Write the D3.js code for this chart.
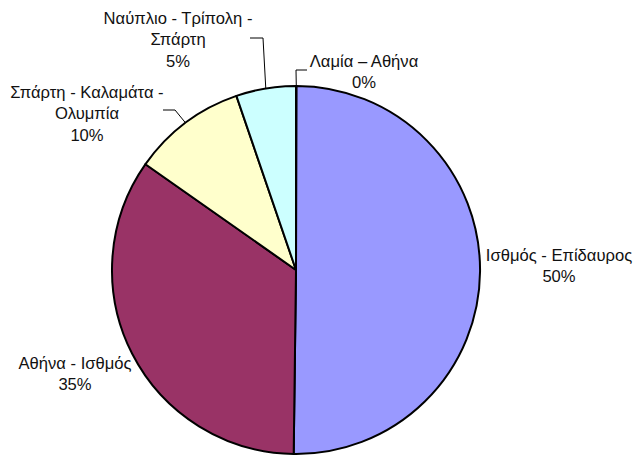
<!DOCTYPE html>
<html>
<head>
<meta charset="utf-8">
<script src="https://cdn.jsdelivr.net/npm/d3@7/dist/d3.min.js"></script>
<style>
	body { margin: 0; background: #fff; }
	svg text { font-family: 'Liberation Sans', Arial, sans-serif; font-size: 16.6px; fill: #111; }
</style>
</head>
<body>
<svg id="chart" width="634" height="460"></svg>
<script>
// route names, shares (percent of total), slice colours
const routes = ["Λαμία – Αθήνα", "Ισθμός - Επίδαυρος", "Αθήνα - Ισθμός", "Σπάρτη - Καλαμάτα - Ολυμπία", "Ναύπλιο - Τρίπολη - Σπάρτη"];
const shares = [0.05, 50.15, 34.55, 10.0, 5.25];
const colors = ["#9999FF", "#9999FF", "#993366", "#FFFFCC", "#CCFFFF"];

// how each label is broken into lines
const labelLines = [
	["Λαμία – Αθήνα"],
	["Ισθμός - Επίδαυρος"],
	["Αθήνα - Ισθμός"],
	["Σπάρτη - Καλαμάτα -", "Ολυμπία"],
	["Ναύπλιο - Τρίπολη -", "Σπάρτη"]
];

const cx = 296, cy = 270, radius = 184;
const lineH = 21.5;

// label block centre (first line) relative to pie centre, and leader elbows
const layout = [
	{ x: 68, y: -209, leader: [[0, -200], [11, -200]] },
	{ x: 263, y: -15 },
	{ x: -221, y: 93 },
	{ x: -209, y: -178, leader: [[-121, -160], [-133, -160]] },
	{ x: -118, y: -252, leader: [[-33, -232], [-46, -232]] }
];

const svg = d3.select("#chart");
const g = svg.append("g").attr("transform", `translate(${cx},${cy})`);

const total = d3.sum(shares);
const pct = d3.format(".0%");

const pie = d3.pie().sort(null).value(d => d)(shares);
const arc = d3.arc().innerRadius(0).outerRadius(radius);

g.selectAll("path.slice")
	.data(pie)
	.join("path")
	.attr("class", "slice")
	.attr("d", arc)
	.attr("fill", (d, i) => colors[i])
	.attr("stroke", "#000")
	.attr("stroke-width", 2)
	.attr("stroke-linejoin", "round");

// leader lines start on the rim at each slice's mid angle
pie.forEach((d, i) => {
	let L = layout[i];
	if (!L.leader) return;
	let a = (d.startAngle + d.endAngle) / 2;
	let p0 = [Math.sin(a) * radius, -Math.cos(a) * radius];
	let pts = [p0, ...L.leader];
	g.append("path")
		.attr("d", d3.line()(pts))
		.attr("fill", "none")
		.attr("stroke", "#000")
		.attr("stroke-width", 1);
});

// labels
pie.forEach((d, i) => {
	let L = layout[i];
	let lines = [...labelLines[i], pct(shares[i] / total)];
	let t = g.append("text")
		.attr("text-anchor", "middle")
		.attr("x", L.x)
		.attr("y", L.y);
	lines.forEach((s, j) => {
		t.append("tspan")
			.attr("x", L.x)
			.attr("y", L.y + j * lineH)
			.attr("dy", "0.35em")
			.text(s);
	});
});
</script>
</body>
</html>
